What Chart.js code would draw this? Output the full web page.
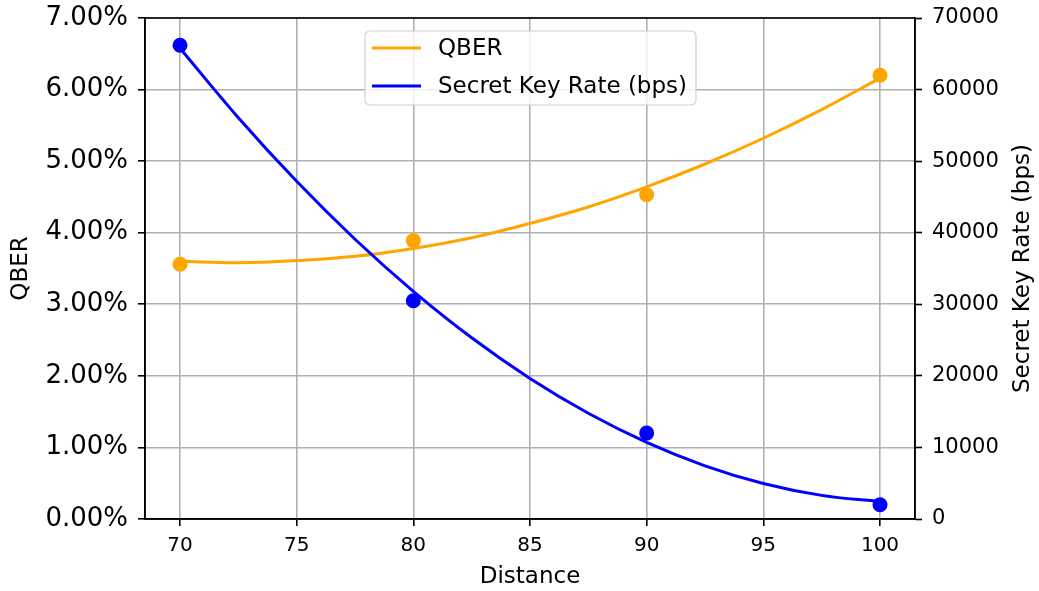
<!DOCTYPE html>
<html>
<head>
<meta charset="utf-8">
<script src="https://cdn.jsdelivr.net/npm/chart.js@4.4.1/dist/chart.umd.min.js"></script>
<style>
  html, body { margin: 0; padding: 0; background: #fff; }
  canvas { display: block; }
</style>
</head>
<body>
<canvas id="chart" width="1039" height="591"></canvas>
<script>
// measured points
var distance = [70, 80, 90, 100];
var qber = [3.56, 3.89, 4.53, 6.20];            // percent
var keyRate = [66200, 30500, 12000, 2000];       // bps

// fitted curves, every 2.5 km
var fitDistance = [70, 72.5, 75, 77.5, 80, 82.5, 85, 87.5, 90, 92.5, 95, 97.5, 100];
var qberFit = [3.60, 3.58, 3.61, 3.67, 3.78, 3.93, 4.13, 4.36, 4.64, 4.96, 5.32, 5.72, 6.16];
var keyRateFit = [65770, 56070, 47180, 39090, 31810, 25320, 19640, 14770, 10700, 7430, 4960, 3300, 2440];

// tick labels
var xTicks = [70, 75, 80, 85, 90, 95, 100];
var qberTicks = [0, 1, 2, 3, 4, 5, 6, 7];
var keyTicks = [0, 10000, 20000, 30000, 40000, 50000, 60000, 70000];

var keyTitle = 'Secret Key Rate (bps)';

var orange = '#ffa500';
var blue = '#0000ff';
var font = 'DejaVu Sans';

function pairs(xs, ys) {
	var out = [];
	for (var i = 0; i < xs.length; i++) {
		out.push({ x: xs[i], y: ys[i] });
	}
	return out;
}

function fixTicks(values) {
	return function(scale) {
		scale.ticks = values.map(function(v) { return { value: v }; });
	};
}

// fixed axis box size, and no extra room for labels hanging over the ends
function fixSize(width, height) {
	return function(scale) {
		if (width) scale.width = width;
		if (height) scale.height = height;
		scale.paddingTop = 0;
		scale.paddingBottom = 0;
		scale.paddingLeft = 0;
		scale.paddingRight = 0;
	};
}

// frame round the plot, right axis title (reads bottom to top) and the legend box
var framePlugin = {
	id: 'frame',
	afterDatasetsDraw: function(chart) {
		var ctx = chart.ctx;
		var a = chart.chartArea;
		ctx.save();
		ctx.strokeStyle = '#000';
		ctx.lineWidth = 1.6;
		ctx.strokeRect(a.left, a.top, a.right - a.left, a.bottom - a.top);

		// right axis title, rotated like the left one
		ctx.save();
		ctx.translate(1023, (a.top + a.bottom) / 2);
		ctx.rotate(-Math.PI / 2);
		ctx.font = '23px "' + font + '"';
		ctx.fillStyle = '#000';
		ctx.textAlign = 'center';
		ctx.textBaseline = 'middle';
		ctx.fillText(keyTitle, 0, 0);
		ctx.restore();

		// legend
		var items = chart.data.datasets.filter(function(d) { return d.showInLegend; });
		items.sort(function(p, q) { return p.legendIndex - q.legendIndex; });
		var bx = 365, by = 31, bw = 331, bh = 74, r = 5;
		ctx.beginPath();
		ctx.moveTo(bx + r, by);
		ctx.arcTo(bx + bw, by, bx + bw, by + bh, r);
		ctx.arcTo(bx + bw, by + bh, bx, by + bh, r);
		ctx.arcTo(bx, by + bh, bx, by, r);
		ctx.arcTo(bx, by, bx + bw, by, r);
		ctx.closePath();
		ctx.fillStyle = 'rgba(255,255,255,0.8)';
		ctx.fill();
		ctx.strokeStyle = '#d0d0d0';
		ctx.lineWidth = 1.2;
		ctx.stroke();

		ctx.font = '23px "' + font + '"';
		ctx.textBaseline = 'middle';
		ctx.textAlign = 'left';
		for (var i = 0; i < items.length; i++) {
			var y = by + 17 + i * 38;
			ctx.strokeStyle = items[i].borderColor;
			ctx.lineWidth = 3;
			ctx.beginPath();
			ctx.moveTo(bx + 7, y);
			ctx.lineTo(bx + 56, y);
			ctx.stroke();
			ctx.fillStyle = '#000';
			ctx.fillText(items[i].label, bx + 73, y + 1);
		}
		ctx.restore();
	}
};

var ctx = document.getElementById('chart').getContext('2d');

new Chart(ctx, {
	type: 'scatter',
	data: {
		datasets: [
			{
				label: keyTitle,
				type: 'line',
				data: pairs(fitDistance, keyRateFit),
				yAxisID: 'yKey',
				borderColor: blue,
				borderWidth: 3,
				pointRadius: 0,
				tension: 0.4,
				fill: false,
				showInLegend: true,
				legendIndex: 1
			},
			{
				label: 'Secret Key Rate points',
				data: pairs(distance, keyRate),
				yAxisID: 'yKey',
				backgroundColor: blue,
				borderColor: blue,
				pointRadius: 7.5,
				pointBorderWidth: 0
			},
			{
				label: 'QBER',
				type: 'line',
				data: pairs(fitDistance, qberFit),
				yAxisID: 'yQber',
				borderColor: orange,
				borderWidth: 3,
				pointRadius: 0,
				tension: 0.4,
				fill: false,
				showInLegend: true,
				legendIndex: 0
			},
			{
				label: 'QBER points',
				data: pairs(distance, qber),
				yAxisID: 'yQber',
				backgroundColor: orange,
				borderColor: orange,
				pointRadius: 7.5,
				pointBorderWidth: 0
			}
		]
	},
	options: {
		responsive: false,
		animation: false,
		layout: { padding: { top: 18, right: 0, bottom: 0, left: 0 } },
		plugins: {
			legend: { display: false },
			tooltip: { enabled: false }
		},
		scales: {
			x: {
				type: 'linear',
				min: 68.5,
				max: 101.5,
				afterBuildTicks: fixTicks(xTicks),
				afterFit: fixSize(0, 72),
				grid: { color: '#b0b0b0', lineWidth: 1.6, tickLength: 7, tickColor: '#000', tickWidth: 1.6 },
				border: { color: '#000', width: 1.6 },
				ticks: { color: '#000', padding: 8, font: { family: font, size: 20 }, maxRotation: 0 },
				title: { display: true, text: 'Distance', color: '#000', font: { family: font, size: 23 }, padding: { top: 0, bottom: 0 } }
			},
			yQber: {
				type: 'linear',
				position: 'left',
				min: 0,
				max: 7,
				afterBuildTicks: fixTicks(qberTicks),
				afterFit: fixSize(145, 0),
				grid: { color: '#b0b0b0', lineWidth: 1.6, tickLength: 7, tickColor: '#000', tickWidth: 1.6 },
				border: { color: '#000', width: 1.6 },
				ticks: {
					color: '#000',
					padding: 10,
					font: { family: font, size: 26 },
					callback: function(v) { return v.toFixed(2) + '%'; }
				},
				title: { display: true, text: 'QBER', color: '#000', font: { family: font, size: 23 }, padding: { top: 7, bottom: 2 } }
			},
			yKey: {
				type: 'linear',
				position: 'right',
				min: 0,
				max: 70000,
				afterBuildTicks: fixTicks(keyTicks),
				afterFit: fixSize(124, 0),
				grid: { drawOnChartArea: false, tickLength: 7, tickColor: '#000', tickWidth: 1.6 },
				border: { color: '#000', width: 1.6 },
				ticks: {
					color: '#000',
					padding: 10,
					font: { family: font, size: 21 },
					callback: function(v) { return String(v); }
				},
				title: { display: false }
			}
		}
	},
	plugins: [framePlugin]
});
</script>
</body>
</html>
